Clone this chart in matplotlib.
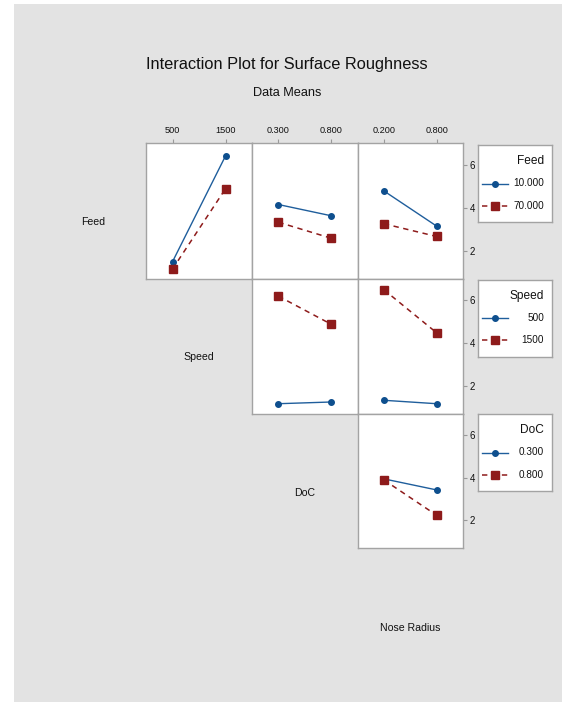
import matplotlib
matplotlib.use("Agg")
import matplotlib.pyplot as plt
from matplotlib.patches import Rectangle

# ---- data: mean surface roughness for each pair of factors ----
factors = ["Feed", "Speed", "DoC", "Nose Radius"]
feed_levels = ["10.000", "70.000"]
speed_levels = ["500", "1500"]
doc_levels = ["0.300", "0.800"]
nose_levels = ["0.200", "0.800"]

# rows = level of the trace factor, columns = level of the x factor
feed_by_speed = [[1.50, 6.40], [1.16, 4.88]]
feed_by_doc = [[4.15, 3.63], [3.33, 2.59]]
feed_by_nose = [[4.78, 3.15], [3.26, 2.67]]
speed_by_doc = [[1.18, 1.26], [6.20, 4.89]]
speed_by_nose = [[1.34, 1.18], [6.50, 4.49]]
doc_by_nose = [[3.95, 3.43], [3.90, 2.24]]

y_ticks = [2, 4, 6]
y_limits = (0.7, 7.0)

plt.rcParams["font.family"] = ["Liberation Sans", "DejaVu Sans"]

W, H = 564, 704
fig = plt.figure(figsize=(W / 100, H / 100), dpi=100)
fig.patch.set_facecolor("white")


def rect(x0, y0, x1, y1):
    """Pixel box (top-left origin) -> figure fraction [l, b, w, h]."""
    return [x0 / W, 1 - y1 / H, (x1 - x0) / W, (y1 - y0) / H]


# grey backdrop
fig.patches.append(Rectangle((14 / W, 2 / H), (562 - 14) / W, (700 - 2) / H,
                             transform=fig.transFigure, facecolor="#e3e3e3",
                             edgecolor="none", zorder=-5))

BLUE = "#1f5e9c"
BLUE_M = "#0e4f8e"
RED = "#8e1b1b"
EDGE = "#a3a3a3"
TXT = "#111111"

styles = [
    dict(color=BLUE, marker="o", ls="-", lw=1.0, ms=4.0, mfc=BLUE_M, mec=BLUE_M),
    dict(color=RED, marker="s", ls=(0, (3.5, 3)), lw=1.1, ms=5.5, mfc=RED, mec=RED),
]

col_edges = [146, 252, 357.5, 463]
row_edges = [143, 279, 414, 548]

level_sets = [feed_levels, speed_levels, doc_levels, nose_levels]
panels = {
    (0, 0): feed_by_speed,
    (0, 1): feed_by_doc,
    (0, 2): feed_by_nose,
    (1, 1): speed_by_doc,
    (1, 2): speed_by_nose,
    (2, 2): doc_by_nose,
}

for (r, c), means in panels.items():
    ax = fig.add_axes(rect(col_edges[c], row_edges[r], col_edges[c + 1], row_edges[r + 1]))
    ax.set_facecolor("white")
    x_levels = level_sets[c + 1]
    xs = list(range(len(x_levels)))
    for k, series in enumerate(means):
        ax.plot(xs, series, **styles[k], zorder=3)
    ax.set_xlim(-0.5, len(xs) - 0.5)
    ax.set_ylim(*y_limits)
    for s in ax.spines.values():
        s.set_color(EDGE)
        s.set_linewidth(1.0)
    if r == 0:
        ax.xaxis.tick_top()
        ax.set_xticks(xs, x_levels)
        ax.tick_params(axis="x", direction="out", length=3, width=0.8,
                       color="#999999", labelsize=6.6, labelcolor=TXT, pad=3)
    else:
        ax.set_xticks([])
    if c == 2:
        ax.yaxis.tick_right()
        ax.set_yticks(y_ticks, [str(v) for v in y_ticks])
        ax.tick_params(axis="y", direction="out", length=3, width=0.8,
                       color="#999999", labelsize=7, labelcolor=TXT, pad=2)
    else:
        ax.set_yticks([])

# factor names on the diagonal
label_x = [93, 199, 305, 410]
label_y = [222, 357, 493, 628]
for i, name in enumerate(factors):
    fig.text(label_x[i] / W, 1 - label_y[i] / H, name, ha="center", va="center",
             fontsize=7.6, color=TXT)

# legends for each trace factor
legend_tops = [145, 279.5, 414]
for i in range(3):
    lax = fig.add_axes(rect(478, legend_tops[i], 551.5, legend_tops[i] + 77))
    lax.set_xlim(0, 1)
    lax.set_ylim(0, 1)
    lax.set_xticks([])
    lax.set_yticks([])
    lax.set_facecolor("white")
    for s in lax.spines.values():
        s.set_color(EDGE)
        s.set_linewidth(1.0)
    lax.text(0.90, 0.79, factors[i], ha="right", va="center", fontsize=8.6, color=TXT)
    for k, lvl in enumerate(level_sets[i]):
        y = [0.50, 0.21][k]
        st = styles[k]
        lax.plot([0.05, 0.41], [y, y], ls=st["ls"], color=st["color"], lw=st["lw"])
        lax.plot([0.23], [y], ls="none", marker=st["marker"], ms=st["ms"],
                 mfc=st["mfc"], mec=st["mec"])
        lax.text(0.90, y, lvl, ha="right", va="center", fontsize=7.2, color=TXT)

fig.text(287 / W, 1 - 64 / H, "Interaction Plot for Surface Roughness",
         ha="center", va="center", fontsize=11.8, color=TXT)
fig.text(287 / W, 1 - 93 / H, "Data Means", ha="center", va="center",
         fontsize=9.2, color=TXT)

fig.savefig("out.png", dpi=100, facecolor=fig.get_facecolor())
